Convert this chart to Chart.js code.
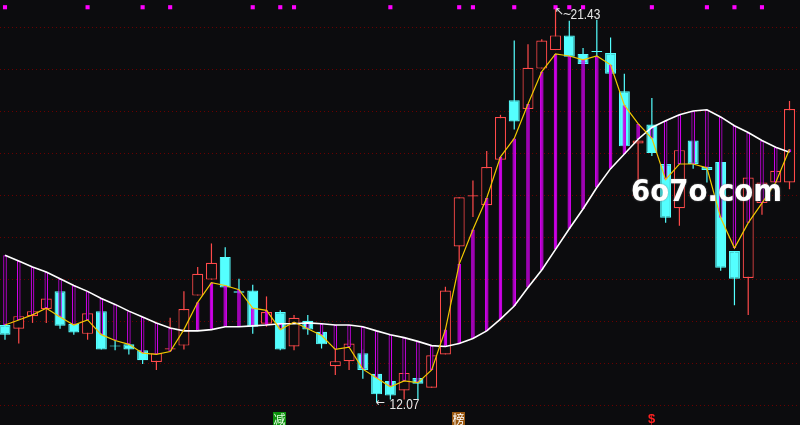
<!DOCTYPE html>
<html>
<head>
<meta charset="utf-8">
<title>K线图</title>
<script src="https://cdn.jsdelivr.net/npm/chart.js"></script>
<style>
  html, body { margin: 0; padding: 0; background: #0c0c0e; }
  canvas { display: block; background: #0c0c0e; }
</style>
</head>
<body>
<canvas id="kChart" width="800" height="425"></canvas>
<script>
// daily bars
const opens = [13.91, 13.82, 14.12, 14.29, 14.71, 13.94, 13.70, 14.24, 13.42, 13.45,
  13.31, 13.03, 13.33, 13.42, 14.61, 14.99, 15.53, 14.71, 14.73, 13.94,
  14.22, 13.40, 14.01, 13.75, 12.93, 13.05, 13.24, 12.75, 12.58, 12.35,
  12.65, 12.42, 13.21, 15.78, 16.97, 16.76, 17.84, 19.26, 19.05, 20.01,
  20.45, 20.80, 20.36, 20.43, 20.38, 19.47, 18.23, 18.68, 17.74, 16.69,
  18.30, 17.67, 17.79, 15.67, 15.03, 16.81, 17.30, 17.30];
const highs = [13.94, 14.12, 14.24, 14.54, 14.71, 13.94, 14.19, 14.24, 13.54, 13.47,
  13.31, 13.24, 14.08, 14.71, 15.29, 15.85, 15.76, 15.01, 14.87, 14.59,
  14.26, 14.15, 14.15, 13.77, 13.33, 13.56, 13.33, 12.75, 12.58, 12.77,
  12.65, 13.19, 14.82, 16.95, 17.35, 18.05, 18.91, 20.68, 20.59, 20.71,
  21.43, 21.15, 20.50, 21.17, 20.75, 19.89, 18.30, 19.31, 17.74, 18.07,
  18.30, 17.67, 17.79, 15.67, 17.42, 17.30, 17.58, 19.24];
const lows = [13.56, 13.47, 13.96, 13.96, 13.82, 13.68, 13.56, 13.33, 13.31, 13.21,
  12.98, 12.84, 13.33, 13.33, 14.61, 14.99, 14.80, 14.66, 13.70, 13.87,
  13.31, 13.31, 13.68, 13.35, 12.72, 12.84, 12.63, 12.07, 12.14, 12.14,
  12.14, 12.42, 13.21, 15.36, 16.48, 16.76, 17.84, 18.56, 19.05, 20.01,
  20.45, 20.29, 20.12, 20.31, 19.89, 18.16, 17.35, 17.93, 16.34, 16.27,
  17.63, 17.30, 15.20, 14.38, 14.15, 16.53, 17.30, 17.14];
const closes = [13.68, 14.12, 14.24, 14.54, 13.89, 13.73, 14.19, 13.33, 13.40, 13.33,
  13.07, 13.24, 13.355, 14.29, 15.13, 15.39, 14.80, 14.68, 13.87, 14.22,
  13.33, 14.08, 13.80, 13.45, 13.05, 13.47, 12.84, 12.26, 12.23, 12.77,
  12.51, 13.19, 14.73, 16.95, 16.995, 17.67, 18.86, 18.75, 20.03, 20.68,
  20.80, 20.29, 20.12, 20.405, 19.89, 18.16, 18.30, 18.00, 16.46, 18.07,
  17.74, 17.60, 15.27, 15.01, 17.42, 17.30, 17.58, 19.05];

// yellow short line and white long line
const fastLine = [13.91, 14.03, 14.15, 14.31, 14.10, 13.91, 14.03, 13.68, 13.54, 13.45,
  13.24, 13.21, 13.28, 13.80, 14.45, 14.92, 14.85, 14.75, 14.31, 14.26,
  13.80, 13.98, 13.82, 13.66, 13.33, 13.38, 12.86, 12.65, 12.44, 12.58,
  12.54, 12.84, 13.80, 15.36, 16.18, 16.93, 17.91, 18.35, 19.17, 19.94,
  20.36, 20.31, 20.22, 20.31, 20.10, 19.14, 18.70, 18.35, 17.37, 17.74,
  17.74, 17.65, 16.46, 15.74, 16.34, 16.81, 17.30, 18.09];
const slowLine = [15.57, 15.43, 15.29, 15.17, 15.01, 14.85, 14.71, 14.54, 14.40, 14.24,
  14.10, 13.96, 13.84, 13.77, 13.77, 13.80, 13.87, 13.87, 13.89, 13.91,
  13.94, 13.94, 13.96, 13.94, 13.91, 13.91, 13.87, 13.77, 13.68, 13.61,
  13.52, 13.42, 13.40, 13.47, 13.59, 13.77, 14.05, 14.36, 14.80, 15.22,
  15.71, 16.20, 16.67, 17.18, 17.63, 17.98, 18.33, 18.61, 18.77, 18.91,
  19.00, 19.03, 18.86, 18.65, 18.49, 18.30, 18.14, 18.02];

// magenta dots along the top
const signalIdx = [0, 6, 10, 12, 18, 20, 21, 28, 33, 34, 37, 40, 41, 42, 47, 51, 53, 55];
const signalLevel = 21.47;

// small marks under the bars
const markIdx = [20, 33, 47];
const markText = ['减', '榜', '$'];

const yMin = 11.626, yMax = 21.547;

const BG = '#0c0c0e';
const UP = '#ff4a4a';
const DOWN = '#54ffff';
const PURPLE = '#cc00e6';

const labels = opens.map((_, i) => i);
const isUp = i => closes[i] >= opens[i];
const signalData = labels.map(i => signalIdx.includes(i) ? signalLevel : null);

const gridPlugin = {
  id: 'dotGrid',
  beforeDatasetsDraw(chart) {
    const { ctx, scales: { y } } = chart;
    ctx.save();
    ctx.strokeStyle = '#6a0000';
    ctx.lineWidth = 1;
    ctx.setLineDash([1, 3]);
    for (let v = Math.ceil(y.min); v <= Math.floor(y.max); v++) {
      const py = Math.round(y.getPixelForValue(v)) + 0.5;
      ctx.beginPath();
      ctx.moveTo(0, py);
      ctx.lineTo(chart.width, py);
      ctx.stroke();
    }
    ctx.restore();
  }
};

const notesPlugin = {
  id: 'notes',
  afterDatasetsDraw(chart) {
    const { ctx, scales: { x, y } } = chart;
    ctx.save();

    // highest high / lowest low labels
    const hi = highs.indexOf(Math.max(...highs));
    const lo = lows.indexOf(Math.min(...lows));
    ctx.fillStyle = '#e6e6e6';

    let px = x.getPixelForValue(hi), py = y.getPixelForValue(highs[hi]);
    ctx.font = '11px "DejaVu Sans"';
    ctx.textBaseline = 'top';
    ctx.textAlign = 'left';
    ctx.fillText('↖', px - 1, py - 2);
    ctx.fillText('~', px + 7, py + 1);
    ctx.save();
    ctx.translate(px + 15, py + 10);
    ctx.scale(0.85, 1);
    ctx.font = '14px "Liberation Sans"';
    ctx.textBaseline = 'alphabetic';
    ctx.fillText(highs[hi].toFixed(2), 0, 0);
    ctx.restore();

    px = x.getPixelForValue(lo); py = y.getPixelForValue(lows[lo]);
    ctx.font = '11px "DejaVu Sans"';
    ctx.textBaseline = 'middle';
    ctx.fillText('←', px - 1, py + 1);
    ctx.save();
    ctx.translate(px + 13, py + 7);
    ctx.scale(0.85, 1);
    ctx.font = '14px "Liberation Sans"';
    ctx.textBaseline = 'alphabetic';
    ctx.fillText(lows[lo].toFixed(2), 0, 0);
    ctx.restore();

    // bottom marks
    const markStyle = {
      '减': { box: '#0c900c', color: '#e8ffe8' },
      '榜': { box: '#9a5810', color: '#ffffff' },
      '$': { box: null, color: '#ff2020' }
    };
    markIdx.forEach((idx, k) => {
      const t = markText[k];
      const s = markStyle[t];
      const mx = Math.round(x.getPixelForValue(idx));
      if (s.box) {
        ctx.fillStyle = s.box;
        ctx.fillRect(mx - 7, 412, 13, 13);
        ctx.font = '12px "Noto Sans CJK SC"';
      } else {
        ctx.font = 'bold 13px "Liberation Sans"';
      }
      ctx.fillStyle = s.color;
      ctx.textAlign = 'center';
      ctx.textBaseline = 'middle';
      ctx.fillText(t, mx - 0.5, 419);
    });

    // watermark
    ctx.font = 'bold 31px "DejaVu Sans"';
    ctx.textAlign = 'left';
    ctx.textBaseline = 'alphabetic';
    const wm = '6o7o.com';
    const w = ctx.measureText(wm).width;
    ctx.translate(631, 201);
    ctx.scale(151 / w, 1);
    ctx.shadowColor = 'rgba(120,120,120,0.9)';
    ctx.shadowBlur = 2;
    ctx.fillStyle = '#ffffff';
    ctx.fillText(wm, 0, 0);
    ctx.restore();
  }
};

const ctx = document.getElementById('kChart').getContext('2d');
const kChart = new Chart(ctx, {
  type: 'bar',
  data: {
    labels: labels,
    datasets: [
      {
        type: 'line', label: 'signal', data: signalData, showLine: false,
        pointStyle: 'rect', pointRadius: 2.9, pointBackgroundColor: '#ff00ff',
        pointBorderWidth: 0, order: 0, clip: false
      },
      {
        type: 'line', label: 'fast', data: fastLine, borderColor: '#f0c800',
        borderWidth: 1.2, pointRadius: 0, tension: 0, order: 1, clip: false
      },
      {
        type: 'line', label: 'slow', data: slowLine, borderColor: '#ffffff',
        borderWidth: 1.6, pointRadius: 0, tension: 0, order: 2, clip: false
      },
      {
        label: 'band', data: slowLine.map((v, i) => [v, fastLine[i]]),
        backgroundColor: c => fastLine[c.dataIndex] > slowLine[c.dataIndex] ? PURPLE : BG,
        borderColor: PURPLE, borderWidth: 1.2, borderSkipped: false,
        barThickness: 3.6, grouped: false, inflateAmount: 0, order: 3, clip: false
      },
      {
        label: 'body', data: opens.map((v, i) => [v, closes[i]]),
        backgroundColor: c => isUp(c.dataIndex) ? BG : DOWN,
        borderColor: c => isUp(c.dataIndex) ? UP : DOWN,
        borderWidth: 1.2, borderSkipped: false,
        barThickness: 11, grouped: false, inflateAmount: 0, order: 4, clip: false
      },
      {
        label: 'wick', data: lows.map((v, i) => [v, highs[i]]),
        backgroundColor: c => isUp(c.dataIndex) ? UP : DOWN,
        borderWidth: 0, barThickness: 1.2, grouped: false, inflateAmount: 0,
        order: 5, clip: false
      }
    ]
  },
  options: {
    responsive: false,
    animation: false,
    layout: { padding: { left: 5, right: 10.5, top: 0, bottom: 0 } },
    plugins: { legend: { display: false }, tooltip: { enabled: false } },
    scales: {
      x: { display: false, offset: false },
      y: { display: false, min: yMin, max: yMax }
    }
  },
  plugins: [gridPlugin, notesPlugin]
});
</script>
</body>
</html>
